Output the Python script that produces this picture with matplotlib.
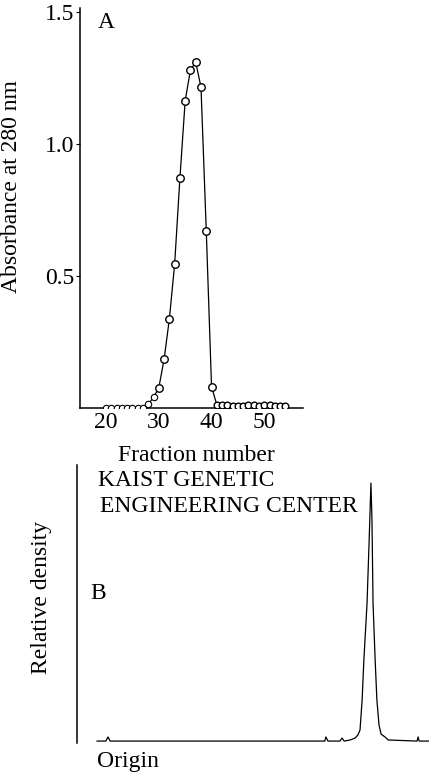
import matplotlib
matplotlib.use("Agg")
import matplotlib.pyplot as plt
import numpy as np

plt.rcParams['font.family'] = ['Liberation Serif', 'DejaVu Serif']

# panel A: gel filtration profile
fraction = [20, 21, 22, 23, 24, 25, 26, 27, 28, 29,
            30, 31, 32, 33, 34, 35, 36, 37, 38, 39, 40,
            41, 42, 43, 44, 45, 46, 47, 48, 49, 50, 51, 52, 53, 54]
absorbance = [0.0, 0.0, 0.0, 0.0, 0.0, 0.0, 0.0, 0.0, 0.015, 0.04,
              0.077, 0.184, 0.337, 0.544, 0.87, 1.164, 1.28, 1.31, 1.215, 0.672, 0.081,
              0.012, 0.01, 0.01, 0.009, 0.009, 0.009, 0.01, 0.01, 0.009, 0.01, 0.01, 0.009, 0.008, 0.008]
a_yticks = [0.5, 1.0, 1.5]
a_xticks = [20, 30, 40, 50]

# panel B: densitometer scan (arbitrary units)
position = [5.7, 8.2, 8.8, 9.4, 70.4, 70.7, 71.3, 74.7, 75.3, 75.9, 77.6, 79.0,
            79.8, 80.4, 81.0, 81.5, 82.4, 83.0, 83.5, 83.8, 84.1, 84.7, 85.2,
            85.8, 86.4, 87.5, 88.4, 96.6, 96.9, 97.2, 100.0]
density = [0.0, 0.0, 1.5, 0.0, 0.0, 1.5, 0.0, 0.0, 1.1, 0.0, 0.4, 1.1,
           2.2, 4.0, 14.9, 29.5, 50.2, 73.1, 93.8, 80.4, 50.2, 29.5, 14.9,
           5.8, 2.5, 1.5, 0.4, 0.0, 1.5, 0.0, 0.0]

FS = 17


def elution_plot(ax):
    ax.plot(fraction, absorbance, color='k', linewidth=0.9, zorder=2)
    # baseline fractions left of the peak are half buried in the axis
    ax.plot(fraction[:10], absorbance[:10], linestyle='none', marker='o', markersize=4.6,
            markerfacecolor='white', markeredgecolor='k', markeredgewidth=0.8, zorder=3)
    ax.plot(fraction[10:21], absorbance[10:21], linestyle='none', marker='o', markersize=5.4,
            markerfacecolor='white', markeredgecolor='k', markeredgewidth=1.0, zorder=3)
    ax.plot(fraction[21:], absorbance[21:], linestyle='none', marker='o', markersize=4.8,
            markerfacecolor='white', markeredgecolor='k', markeredgewidth=1.0, zorder=3)

    ax.set_xlim(15.05, 57.35)
    ax.set_ylim(0, 1.515)
    ax.spines['top'].set_visible(False)
    ax.spines['right'].set_visible(False)
    ax.spines['left'].set_linewidth(1.1)
    ax.spines['bottom'].set_linewidth(1.1)
    ax.set_yticks(a_yticks)
    ax.set_yticklabels(["0.5", "1.0", "1.5"])
    ax.set_xticks(a_xticks)
    ax.tick_params(axis='y', direction='out', length=3, width=0.8, pad=1, labelsize=FS)
    ax.tick_params(axis='x', length=0, pad=3, labelsize=FS)

    ax.text(0.081, 0.965, "A", transform=ax.transAxes, ha='left', va='center', fontsize=FS)
    ax.set_ylabel("Absorbance at 280 nm", fontsize=FS)
    ax.yaxis.set_label_coords(-0.26, 0.5525)
    ax.set_xlabel("Fraction number", fontsize=FS)
    ax.xaxis.set_label_coords(0.52, -0.0925)


def scan_plot(ax):
    ax.plot(position, density, color='k', linewidth=0.9)

    ax.set_xlim(0, 100)
    ax.set_ylim(-0.7, 100.4)
    for side in ['top', 'right', 'bottom']:
        ax.spines[side].set_visible(False)
    ax.spines['left'].set_linewidth(1.1)
    ax.set_xticks([])
    ax.set_yticks([])

    ax.text(0.0597, 0.946, "KAIST GENETIC", transform=ax.transAxes, ha='left', va='center', fontsize=FS)
    ax.text(0.0653, 0.849, "ENGINEERING CENTER", transform=ax.transAxes, ha='left', va='center', fontsize=FS)
    ax.text(0.037, 0.536, "B", transform=ax.transAxes, ha='left', va='center', fontsize=FS)
    ax.text(0.0568, -0.068, "Origin", transform=ax.transAxes, ha='left', va='center', fontsize=FS)
    ax.set_ylabel("Relative density", fontsize=FS)
    ax.yaxis.set_label_coords(-0.071, 0.525)


figure = plt.figure(figsize=(4.29, 7.74), dpi=100)
ax1 = figure.add_axes([80 / 429, 1 - 408 / 774, 223 / 429, 400 / 774])
ax2 = figure.add_axes([77 / 429, 1 - 743 / 774, 352 / 429, 278 / 774])

elution_plot(ax1)
scan_plot(ax2)

figure.savefig("out.png", dpi=100)
